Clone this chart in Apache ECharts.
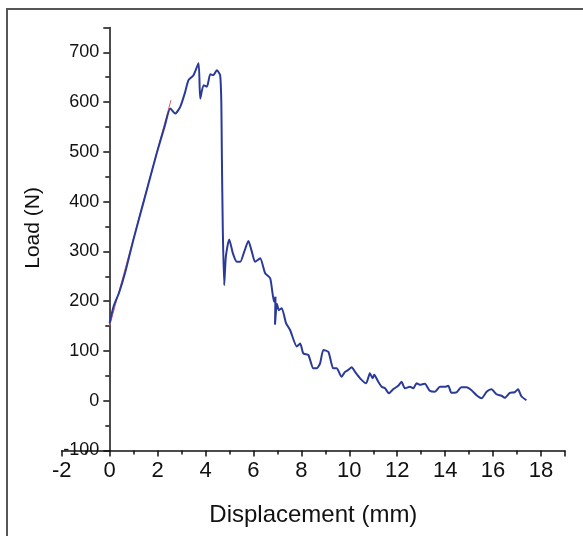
<!DOCTYPE html>
<html><head><meta charset="utf-8">
<script src="https://cdn.jsdelivr.net/npm/echarts@6/dist/echarts.min.js"></script>
<style>html,body{margin:0;padding:0;background:#fff}#c{width:583px;height:536px}</style>
</head><body><div id="c"></div>
<script>
const disp = [0,0.17,0.4,0.65,1.0,1.42,1.97,2.3,2.53,2.74,2.95,3.15,3.29,3.5,3.71,3.78,3.92,4.06,4.2,4.33,4.47,4.61,4.66,4.68,4.72,4.78,4.85,4.99,5.15,5.31,5.45,5.62,5.79,5.93,6.07,6.28,6.49,6.7,6.86,6.92,6.9,6.98,7.06,7.18,7.36,7.53,7.81,7.95,8.08,8.29,8.5,8.64,8.78,8.92,9.13,9.33,9.47,9.68,9.82,9.96,10.1,10.24,10.45,10.7,10.86,10.97,11.04,11.21,11.35,11.49,11.65,11.83,12.04,12.18,12.32,12.53,12.67,12.81,12.94,13.15,13.36,13.57,13.78,13.99,14.13,14.26,14.47,14.68,14.89,15.1,15.31,15.52,15.73,15.93,16.14,16.35,16.49,16.7,16.9,17.04,17.18,17.39];
const load = [156,190,218,258,325,400,498,552,587,577,591,620,644,654,678,607,634,631,656,654,664,654,600,504,350,232,290,324,295,279,279,300,321,300,279,286,256,246,199,209,153,195,182,186,156,142,109,115,95,92,65,65,75,102,98,65,65,48,58,62,67,58,45,35,55,45,52,38,28,25,15,23,30,38,25,28,25,35,32,34,20,18,28,28,30,16,17,27,27,21,11,5,18,23,13,10,6,16,17,23,9,1];
const fitX = [0, 2.56];
const fitY = [150, 604];
const xTicks = ['-2','0','2','4','6','8','10','12','14','16','18'];
const yTicks = ['-100','0','100','200','300','400','500','600','700'];

const chart = echarts.init(document.getElementById('c'));
const font = 'Liberation Sans, Arial, sans-serif';
chart.setOption({
  animation: false,
  backgroundColor: '#fff',
  graphic: [{type:'rect', shape:{x:7,y:9,width:700,height:700}, style:{fill:'none', stroke:'#555', lineWidth:2}, silent:true}],
  grid: {left:61.7, right:18, top:27.4, bottom:85.5, containLabel:false, outerBoundsMode:'none'},
  xAxis: {
    type:'value', min:-2, max:19, interval:2,
    name:'Displacement (mm)', nameLocation:'middle', nameGap:53,
    nameTextStyle:{fontFamily:font, fontSize:24, color:'#111'},
    axisLine:{show:true, onZero:false, lineStyle:{color:'#111', width:1.5}},
    axisTick:{show:true, length:6, lineStyle:{color:'#111', width:1.5}},
    minorTick:{show:true, splitNumber:2, length:4, lineStyle:{color:'#111', width:1.5}},
    splitLine:{show:false},
    axisLabel:{fontFamily:font, fontSize:22, color:'#111', margin:9,
      formatter: v => xTicks.includes(String(v)) ? String(v) : ''}
  },
  yAxis: {
    type:'value', min:-100, max:750, interval:100, offset:-47.6,
    name:'Load (N)', nameLocation:'middle', nameGap:66, nameRotate:90, nameMoveOverlap:false,
    nameTextStyle:{fontFamily:font, fontSize:21, color:'#111', padding:[0,0,0,22]},
    axisLine:{show:true, onZero:false, lineStyle:{color:'#111', width:1.5}},
    axisTick:{show:true, length:6, lineStyle:{color:'#111', width:1.5}},
    minorTick:{show:true, splitNumber:2, length:4, lineStyle:{color:'#111', width:1.5}},
    splitLine:{show:false},
    axisLabel:{fontFamily:font, fontSize:18, color:'#111', margin:10,
      formatter: v => yTicks.includes(String(v)) ? String(v) : ''}
  },
  series: [
    {type:'line', data: disp.map((x,i)=>[x, load[i]]), showSymbol:false, smooth:0.2,
     lineStyle:{color:'#2a3a99', width:2}, z:3},
    {type:'line', data: fitX.map((x,i)=>[x, fitY[i]]), showSymbol:false,
     lineStyle:{color:'#e06070', width:1}, z:2}
  ]
});
</script></body></html>
